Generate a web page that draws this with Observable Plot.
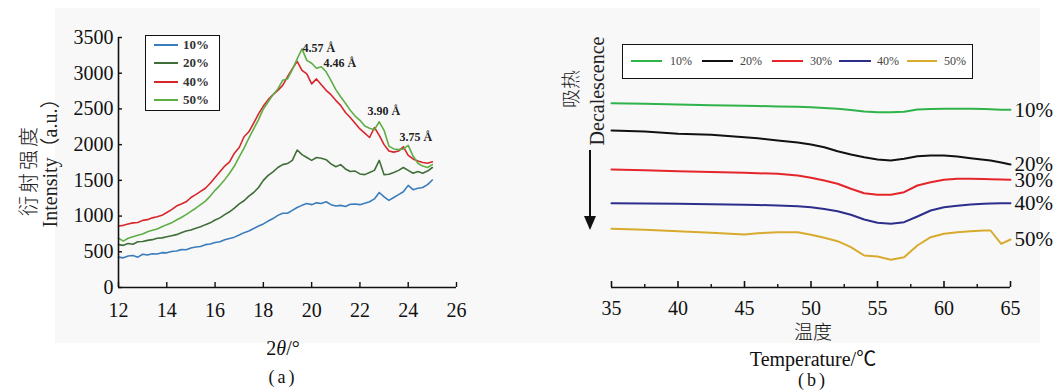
<!DOCTYPE html>
<html>
<head>
<meta charset="utf-8">
<script src="https://cdn.jsdelivr.net/npm/d3@7"></script>
<script src="https://cdn.jsdelivr.net/npm/@observablehq/plot@0.6"></script>
<style>
  html, body { margin: 0; padding: 0; background: #fff; }
  #page { position: relative; width: 1056px; height: 391px; overflow: hidden; background: #fff;
          font-family: "Liberation Serif", "Noto Sans CJK SC", serif; color: #111; }
  #bg { position: absolute; left: 55px; top: 8px; width: 985px; height: 335px; background: #f8f8f8; }
  .abs { position: absolute; white-space: nowrap; }
  .ctr { transform: translate(-50%, -50%); }
  .rot { transform: translate(-50%, -50%) rotate(-90deg); }
  .legend { position: absolute; border: 1.5px solid #111; box-sizing: border-box; background: #fff; }
  .sw { position: absolute; height: 0; border-top: 2px solid; }
  .lab { position: absolute; transform: translateY(-50%); white-space: nowrap; }
</style>
</head>
<body>
<div id="page">
  <div id="bg"></div>
  <div id="plotA" class="abs" style="left:0;top:0;"></div>
  <div id="plotB" class="abs" style="left:540px;top:0;"></div>
</div>
<script>
// ---------------- Panel (a): XRD ----------------
const theta = [12.0,12.2,12.4,12.6,12.8,13.0,13.2,13.4,13.6,13.8,14.0,14.2,14.4,14.6,14.8,15.0,15.2,15.4,15.6,15.8,
  16.0,16.2,16.4,16.6,16.8,17.0,17.2,17.4,17.6,17.8,18.0,18.2,18.4,18.6,18.8,19.0,19.2,19.4,19.6,19.8,
  20.0,20.2,20.4,20.6,20.8,21.0,21.2,21.4,21.6,21.8,22.0,22.2,22.4,22.6,22.8,23.0,23.2,23.4,23.6,23.8,
  24.0,24.2,24.4,24.6,24.8,25.0];
const xrd10 = [425,415,440,448,425,465,455,472,468,488,485,505,512,530,528,552,568,575,600,608,
  630,640,668,685,705,735,768,790,825,860,890,930,965,1010,1040,1040,1080,1120,1150,1175,
  1160,1185,1175,1200,1160,1140,1150,1135,1165,1170,1160,1180,1200,1240,1330,1270,1220,1260,1300,1340,
  1430,1370,1390,1400,1440,1505];
const xrd20 = [600,590,615,605,640,645,660,670,690,695,710,725,740,765,790,805,830,850,880,905,
  945,975,1020,1060,1110,1170,1215,1280,1330,1400,1500,1570,1620,1680,1720,1735,1780,1925,1860,1820,
  1780,1820,1810,1790,1730,1690,1720,1660,1625,1630,1590,1580,1610,1640,1780,1580,1585,1610,1640,1680,
  1640,1600,1625,1600,1630,1680];
const xrd40 = [860,870,890,905,910,940,950,975,990,1010,1050,1090,1140,1170,1200,1260,1300,1345,1390,1460,
  1540,1620,1700,1760,1880,1960,2110,2180,2300,2430,2540,2630,2700,2760,2830,2950,3060,3165,3040,2990,
  2850,2920,2840,2760,2700,2620,2550,2450,2380,2300,2220,2160,2100,2240,2130,2000,1910,1895,1910,1970,
  1850,1800,1770,1750,1740,1760];
const xrd50 = [690,650,690,710,730,750,780,800,820,850,880,905,945,980,1020,1065,1110,1160,1210,1280,
  1360,1430,1510,1600,1700,1830,1950,2090,2220,2350,2500,2600,2700,2780,2900,2920,3050,3200,3340,3180,
  3140,3070,3090,3020,2900,2770,2670,2580,2480,2400,2340,2260,2230,2210,2320,2200,1980,1940,1930,1940,
  1990,1840,1740,1700,1680,1720];
const seriesA = ["10%", "20%", "40%", "50%"];
const colorsA = ["#3a7dbd", "#3f6e38", "#d7262b", "#5fae45"];
const xTicksA = [12,14,16,18,20,22,24,26];
const yTicksA = [0,500,1000,1500,2000,2500,3000,3500];
const peakTheta = [19.62, 20.49, 22.31, 23.64];
const peakInt = [3346, 3136, 2464, 2100];
const peakText = ["4.57 Å", "4.46 Å", "3.90 Å", "3.75 Å"];

// ---------------- Panel (b): DSC ----------------
const temp = [35,37.5,40,42.5,45,46,47.5,49,50,51,52,53,54,55,56,57,58,59,60,61,62,63,63.5,64.3,65];
const dsc10 = [18.43,18.37,18.30,18.23,18.17,18.15,18.10,18.07,18.03,17.95,17.87,17.75,17.60,17.53,17.53,17.58,17.80,17.85,17.87,17.87,17.87,17.85,17.83,17.77,17.77];
const dsc20 = [15.70,15.60,15.37,15.27,15.03,14.93,14.70,14.50,14.30,14.03,13.63,13.30,13.03,12.80,12.70,12.87,13.13,13.20,13.20,13.10,12.93,12.77,12.70,12.50,12.30];
const dsc30 = [11.80,11.72,11.63,11.55,11.47,11.43,11.37,11.20,10.97,10.70,10.37,9.87,9.43,9.27,9.27,9.53,10.20,10.53,10.77,10.87,10.87,10.85,10.83,10.80,10.77];
const dsc40 = [8.43,8.40,8.37,8.32,8.27,8.25,8.20,8.12,8.03,7.85,7.63,7.27,6.80,6.47,6.37,6.53,7.10,7.70,8.03,8.17,8.30,8.37,8.40,8.43,8.43];
const dsc50 = [5.87,5.77,5.63,5.47,5.30,5.43,5.53,5.53,5.27,4.97,4.63,4.03,3.20,3.10,2.77,3.03,4.20,5.03,5.37,5.53,5.63,5.70,5.70,4.37,4.80];
const seriesB = ["10%", "20%", "30%", "40%", "50%"];
const colorsB = ["#2fb34a", "#111111", "#e4262b", "#2d2e8c", "#d8ab2f"];
const xTicksB = [35,40,45,50,55,60,65];
const xMinorB = [37.5,42.5,47.5,52.5,57.5,62.5];

const SERIF = "Liberation Serif";
const FONT = '"Liberation Serif", "Noto Sans CJK SC", serif';

// tidy tables
const xrdValues = [xrd10, xrd20, xrd40, xrd50];
const tableA = seriesA.flatMap((s, k) => theta.map((t, i) => ({t, v: xrdValues[k][i], s})));
const dscValues = [dsc10, dsc20, dsc30, dsc40, dsc50];
const tableB = seriesB.flatMap((s, k) => temp.map((t, i) => ({t, v: dscValues[k][i], s})));
const endB = seriesB.map((s, k) => ({t: temp[temp.length - 1], v: dscValues[k][temp.length - 1], s}));
const peaks = peakText.map((txt, i) => ({t: peakTheta[i], v: peakInt[i], txt}));

const plotA = Plot.plot({
  width: 480, height: 343,
  marginLeft: 118, marginRight: 24, marginTop: 37, marginBottom: 56,
  style: {background: "transparent", fontFamily: FONT, fontSize: "20px", color: "#111"},
  x: {domain: [12, 26]},
  y: {domain: [0, 3500]},
  color: {domain: seriesA, range: colorsA},
  marks: [
    Plot.line(tableA, {x: "t", y: "v", stroke: "s", strokeWidth: 1.6, curve: "linear"}),
    Plot.ruleY([0], {stroke: "#111", strokeWidth: 1.6}),
    Plot.ruleX([12], {stroke: "#111", strokeWidth: 1.6}),
    Plot.tickX(xTicksA, {x: d => d, insetTop: 245, stroke: "#111", strokeWidth: 1.4}),
    Plot.tickY(yTicksA, {y: d => d, insetRight: 334, stroke: "#111", strokeWidth: 1.4}),
    Plot.axisX({ticks: xTicksA, tickFormat: d => String(d), tickSize: 0, tickPadding: 15, label: null,
      fontSize: 20, fontFamily: SERIF, fontVariant: "normal", fill: "#111"}),
    Plot.axisY({ticks: yTicksA, tickFormat: d => String(d), tickSize: 0, tickPadding: 5, label: null,
      fontSize: 20, fontFamily: SERIF, fontVariant: "normal", fill: "#111"}),
    Plot.text(peaks, {x: "t", y: "v", text: "txt", textAnchor: "start", fontSize: 12, fontWeight: "bold",
      fontFamily: SERIF, fill: "#222"})
  ]
});
document.getElementById("plotA").appendChild(plotA);

const plotB = Plot.plot({
  width: 516, height: 343,
  marginLeft: 71, marginRight: 46, marginTop: 37, marginBottom: 56,
  style: {background: "transparent", fontFamily: FONT, fontSize: "20px", color: "#111", overflow: "visible"},
  x: {domain: [35, 65]},
  y: {domain: [0, 25], axis: null},
  color: {domain: seriesB, range: colorsB},
  marks: [
    Plot.line(tableB, {x: "t", y: "v", stroke: "s", strokeWidth: 2}),
    Plot.ruleY([0], {stroke: "#111", strokeWidth: 1.6}),
    Plot.tickX(xTicksB, {x: d => d, insetTop: 244, stroke: "#111", strokeWidth: 1.6}),
    Plot.tickX(xMinorB, {x: d => d, insetTop: 247, stroke: "#111", strokeWidth: 1.4}),
    Plot.axisX({ticks: xTicksB, tickFormat: d => String(d), tickSize: 0, tickPadding: 13, label: null,
      fontSize: 20, fontFamily: SERIF, fontVariant: "normal", fill: "#111"}),
    Plot.text(endB, {x: "t", y: "v", text: "s", textAnchor: "start", dx: 4, fontSize: 21,
      fontFamily: SERIF, fill: "#111"})
  ]
});
document.getElementById("plotB").appendChild(plotB);

// ---------------- text & legends (HTML overlay) ----------------
const page = document.getElementById("page");
function addText(html, cx, cy, cls, style) {
  const d = document.createElement("div");
  d.className = "abs " + cls;
  d.style.left = cx + "px"; d.style.top = cy + "px";
  Object.assign(d.style, style || {});
  d.innerHTML = html;
  page.appendChild(d);
  return d;
}
const CJK = '"Noto Sans CJK SC", sans-serif';
// panel a labels
addText("衍射强度", 27, 170, "rot", {fontSize: "20px", letterSpacing: "3px", fontFamily: CJK, fontWeight: "300", color: "#222"});
addText("Intensity（a.u.）", 48, 158, "rot", {fontSize: "20px", color: "#222"});
addText("2<i>θ</i>/°", 283, 348, "ctr", {fontSize: "20px", fontFamily: SERIF});
addText("(a)", 283, 377, "ctr", {fontSize: "18px", fontFamily: SERIF, letterSpacing: "3px"});
// panel b labels
addText("吸热", 569, 89, "rot", {fontSize: "19px", fontFamily: CJK, fontWeight: "300", color: "#222"});
addText("Decalescence", 597, 91, "rot", {fontSize: "20px", fontFamily: SERIF, color: "#222"});
addText("温度", 813, 330, "ctr", {fontSize: "19px", fontFamily: CJK, fontWeight: "300"});
addText("Temperature/℃", 813, 357, "ctr", {fontSize: "20px"});
addText("(b)", 813, 380, "ctr", {fontSize: "18px", fontFamily: SERIF, letterSpacing: "3px"});

// arrow (panel b)
const arrow = document.createElementNS("http://www.w3.org/2000/svg", "svg");
arrow.setAttribute("width", "20"); arrow.setAttribute("height", "90");
arrow.style.position = "absolute"; arrow.style.left = "580px"; arrow.style.top = "148px";
arrow.innerHTML = '<line x1="10" y1="2" x2="10" y2="72" stroke="#111" stroke-width="2"/>' +
  '<path d="M4,68 L16,68 L10,82 Z" fill="#111"/>';
page.appendChild(arrow);

// legends
function legend(left, top, w, h, items, colors, rows, opts) {
  const box = document.createElement("div");
  box.className = "legend";
  Object.assign(box.style, {left: left + "px", top: top + "px", width: w + "px", height: h + "px"});
  items.forEach((s, i) => {
    const p = rows[i];
    const sw = document.createElement("div");
    sw.className = "sw";
    Object.assign(sw.style, {left: p.lx + "px", top: (p.y - 1) + "px", width: p.lw + "px", borderTopColor: colors[i]});
    box.appendChild(sw);
    const lb = document.createElement("div");
    lb.className = "lab";
    Object.assign(lb.style, {left: p.tx + "px", top: p.y + "px", fontFamily: SERIF}, opts);
    lb.textContent = s;
    box.appendChild(lb);
  });
  page.appendChild(box);
}
legend(145, 35, 75, 76, seriesA, colorsA,
  [{lx: 8, lw: 24, tx: 37, y: 9}, {lx: 8, lw: 24, tx: 37, y: 27}, {lx: 8, lw: 24, tx: 37, y: 46}, {lx: 8, lw: 24, tx: 37, y: 64}],
  {fontSize: "13px", fontWeight: "bold", color: "#333"});
legend(622, 44, 351, 35, seriesB, colorsB,
  [{lx: 8, lw: 31, tx: 47, y: 16}, {lx: 79, lw: 31, tx: 117, y: 16}, {lx: 149, lw: 31, tx: 187, y: 16},
   {lx: 216, lw: 32, tx: 254, y: 16}, {lx: 284, lw: 30, tx: 321, y: 16}],
  {fontSize: "12px", color: "#444"});
</script>
</body>
</html>
